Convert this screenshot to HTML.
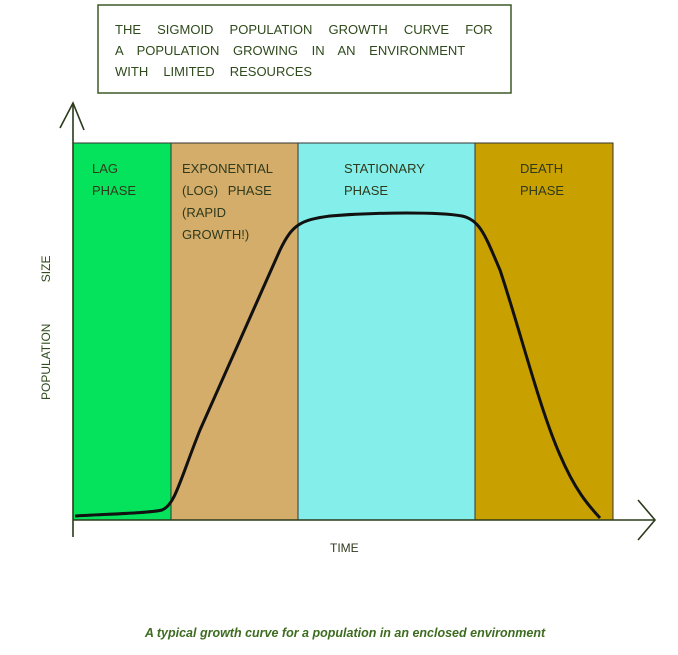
<!DOCTYPE html>
<html><head><style>
body{margin:0;background:#fff;width:678px;height:650px;overflow:hidden;font-family:"Liberation Sans",sans-serif}
</style></head><body>
<svg width="678" height="650" xmlns="http://www.w3.org/2000/svg" font-family="Liberation Sans, sans-serif">
<rect x="98" y="5" width="413" height="88" fill="#fff" stroke="#3c5a25" stroke-width="1.5"/>
<g font-size="13" fill="#2f4a1c">
<text x="115" y="34" word-spacing="12.5">THE SIGMOID POPULATION GROWTH CURVE FOR</text>
<text x="115" y="55" word-spacing="10">A POPULATION GROWING IN AN ENVIRONMENT</text>
<text x="115" y="76" word-spacing="11.5">WITH LIMITED RESOURCES</text>
</g>
<rect x="73" y="143" width="98" height="377" fill="#05e35c" stroke="#333" stroke-width="1"/>
<rect x="171" y="143" width="127" height="377" fill="#d5ad6b" stroke="#333" stroke-width="1"/>
<rect x="298" y="143" width="177" height="377" fill="#84eeea" stroke="#333" stroke-width="1"/>
<rect x="475" y="143" width="138" height="377" fill="#c8a000" stroke="#333" stroke-width="1"/>
<g font-size="13" fill="#2f3a1c">
<text x="92" y="173">LAG</text><text x="92" y="195">PHASE</text>
<text x="182" y="173">EXPONENTIAL</text><text x="182" y="195" word-spacing="6">(LOG) PHASE</text>
<text x="182" y="217">(RAPID</text><text x="182" y="239">GROWTH!)</text>
<text x="344" y="173">STATIONARY</text><text x="344" y="195">PHASE</text>
<text x="520" y="173">DEATH</text><text x="520" y="195">PHASE</text>
</g>
<path d="M75,516 C110,514 150,513 162,510 C175,505 180,480 200,430 L280,250 C292,225 300,220 330,216 C380,212 440,212 462,216 C480,220 485,235 500,270 C520,330 540,410 560,455 C575,490 588,505 600,518" fill="none" stroke="#111" stroke-width="3"/>
<g stroke="#2a3a1a" stroke-width="1.6" fill="none">
<line x1="73" y1="103" x2="73" y2="537"/>
<polyline points="60,128 73,103 84,130"/>
<line x1="73" y1="520" x2="655" y2="520"/>
<polyline points="638,500 655,520 638,540"/>
</g>
<text transform="translate(50,400) rotate(-90)" font-size="12" fill="#2f4a1c" word-spacing="38">POPULATION SIZE</text>
<text x="330" y="552" font-size="12" fill="#2f3a1c">TIME</text>
<text x="345" y="637" text-anchor="middle" font-size="12.5" font-weight="bold" font-style="italic" fill="#3d6b1f">A typical growth curve for a population in an enclosed environment</text>
</svg>
</body></html>
